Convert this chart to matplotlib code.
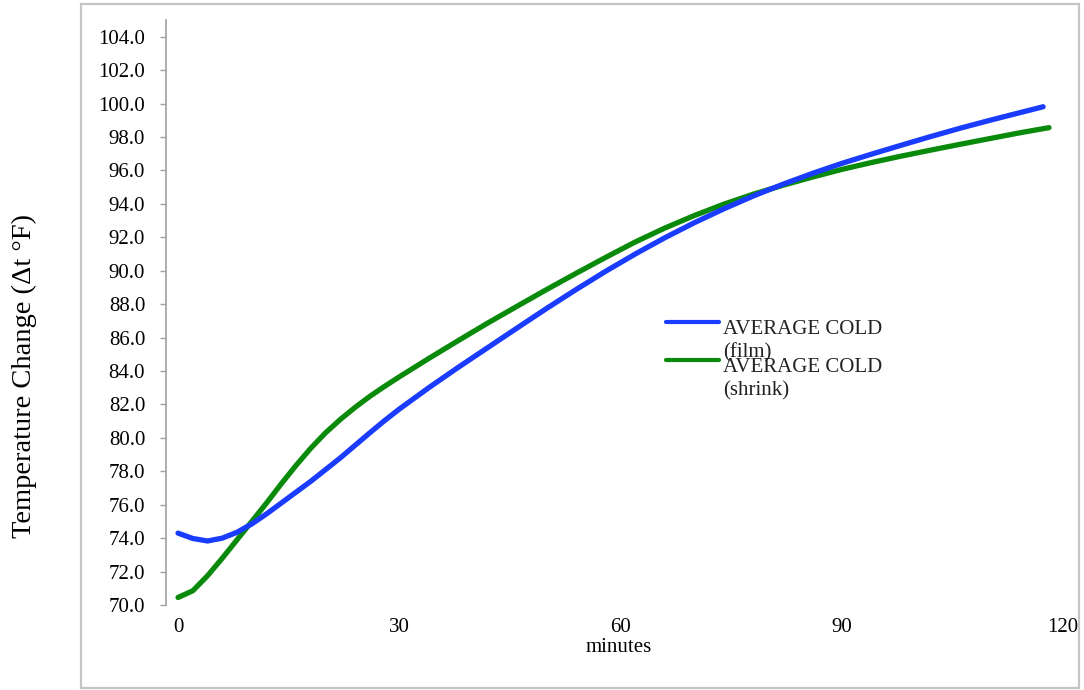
import matplotlib
matplotlib.use("Agg")
import matplotlib.pyplot as plt
from matplotlib.patches import Rectangle

plt.rcParams['font.family'] = ['Liberation Serif', 'DejaVu Serif']

# Data (minutes, temperature in °F)
film_min = [0, 2, 4, 6, 8, 10, 12, 14, 16, 18, 20, 22, 24, 26, 28, 30, 34, 38,
            42, 46, 50, 54, 58, 62, 66, 70, 74, 78, 82, 86, 90, 94, 98, 102,
            106, 110, 114, 117.3]
film_temp = [74.3, 73.98, 73.83, 74.0, 74.35, 74.85, 75.45, 76.1, 76.75, 77.4,
             78.1, 78.8, 79.55, 80.3, 81.03, 81.72, 83.0, 84.22, 85.4, 86.58,
             87.75, 88.88, 89.97, 91.0, 91.97, 92.87, 93.7, 94.47, 95.17,
             95.82, 96.42, 96.97, 97.5, 98.02, 98.52, 98.99, 99.44, 99.81]

shrink_min = [0, 2, 4, 6, 8, 10, 12, 14, 16, 18, 20, 22, 24, 26, 28, 30, 34,
              38, 42, 46, 50, 54, 58, 62, 66, 70, 74, 78, 82, 86, 90, 94, 98,
              102, 106, 110, 114, 118.1]
shrink_temp = [70.45, 70.85, 71.75, 72.8, 73.9, 75.0, 76.1, 77.25, 78.35,
               79.38, 80.3, 81.1, 81.82, 82.48, 83.08, 83.65, 84.75, 85.82,
               86.87, 87.88, 88.88, 89.85, 90.8, 91.72, 92.55, 93.3, 93.98,
               94.58, 95.11, 95.6, 96.06, 96.47, 96.85, 97.21, 97.56, 97.9,
               98.24, 98.56]

series_labels = ["AVERAGE COLD\n(film)", "AVERAGE COLD\n(shrink)"]
x_ticks = [0, 30, 60, 90, 120]
x_ticklabels = ["0", "30", "60", "90", "120"]
y_ticks = [70 + 2 * i for i in range(18)]

W, H = 1084, 690
fig = plt.figure(figsize=(W / 100, H / 100), dpi=100)

# outer frame
fig.patches.append(Rectangle((81 / W, 1 - 688 / H), (1079 - 81) / W, (688 - 4) / H,
                             transform=fig.transFigure, fill=False,
                             edgecolor='#c4c4c4', linewidth=1.6, zorder=0))

ax = fig.add_axes([166 / W, (H - 605) / H, (1080 - 166) / W, (605 - 20) / H])
ax.patch.set_alpha(0)

blue = '#1a3cff'
green = '#0a8a0a'
ax.plot(film_min, film_temp, color=blue, lw=3.8, solid_capstyle='round',
        solid_joinstyle='round', zorder=3)
ax.plot(shrink_min, shrink_temp, color=green, lw=3.8, solid_capstyle='round',
        solid_joinstyle='round', zorder=2)

ax.set_xlim(-1.63, 122.3)
ax.set_ylim(70, 105)

for s in ['top', 'right', 'bottom']:
    ax.spines[s].set_visible(False)
ax.spines['left'].set_color('#a0a0a0')
ax.spines['left'].set_linewidth(1.2)

ax.set_yticks(y_ticks)
ax.set_yticklabels([f"{v:.1f}" for v in y_ticks], fontsize=15)
ax.tick_params(axis='y', direction='out', length=4.5, width=1.0, color='#a0a0a0', pad=10.5)
ax.set_xticks(x_ticks)
ax.set_xticklabels(x_ticklabels, fontsize=15)
ax.tick_params(axis='x', length=0, pad=9)

ax.set_xlabel("minutes", fontsize=15)
ax.xaxis.set_label_coords(0.495, -0.056)
ax.set_ylabel("Temperature Change (\u0394t \u00b0F)", fontsize=20.5)
ax.yaxis.set_label_coords(-0.141, 0.391)

# legend drawn manually (entries overlap as in the reference)
def ax_x(px):
    return (px - 166) / 914
def ax_y(py):
    return (605 - py) / 585

for py, col, lab in [(322, blue, series_labels[0]), (360, green, series_labels[1])]:
    ax.plot([ax_x(666), ax_x(719)], [ax_y(py), ax_y(py)], transform=ax.transAxes,
            color=col, lw=3.0, solid_capstyle='round', clip_on=False)
    ax.text(ax_x(723), ax_y(py - 2), lab, transform=ax.transAxes, fontsize=15,
            va='top', ha='left', color='#222222', linespacing=1.3)

fig.savefig("out.png", dpi=100)
